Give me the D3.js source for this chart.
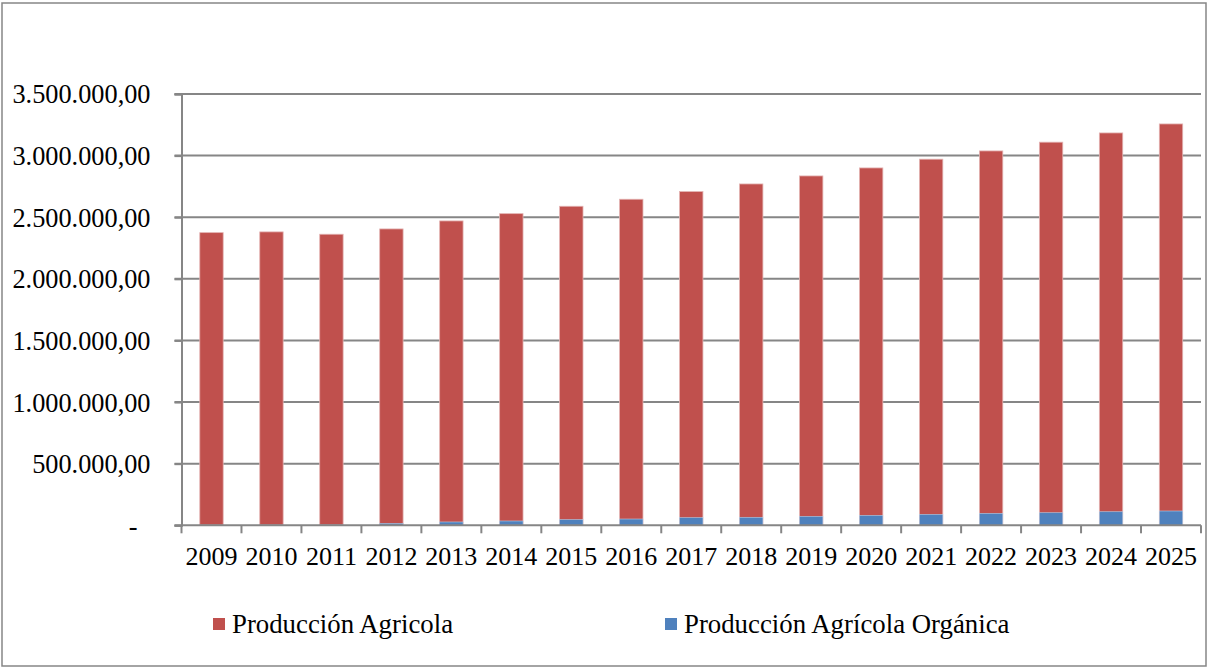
<!DOCTYPE html>
<html>
<head>
<meta charset="utf-8">
<script src="https://cdn.jsdelivr.net/npm/d3@7"></script>
<style>
  html, body { margin: 0; padding: 0; background: #fff; }
  svg { display: block; }
  text { font-family: "Liberation Serif", "Times New Roman", serif; fill: #000; }
</style>
</head>
<body>
<svg id="chart" width="1208" height="669"></svg>
<script>
const years = ["2009","2010","2011","2012","2013","2014","2015","2016","2017","2018","2019","2020","2021","2022","2023","2024","2025"];
const produccionAgricola = [2375000, 2381000, 2362000, 2405000, 2470000, 2529000, 2589000, 2646000, 2708000, 2770000, 2835000, 2900000, 2971000, 3038000, 3109000, 3184000, 3257000];
const produccionOrganica = [2000, 2500, 3000, 16000, 27000, 35000, 46000, 51000, 62000, 65000, 73000, 81000, 89000, 97000, 102000, 110000, 116000];
const yTicks = [0, 500000, 1000000, 1500000, 2000000, 2500000, 3000000, 3500000];
const seriesNames = ["Producción Agricola", "Producción Agrícola Orgánica"];
const seriesColors = ["#C0504D", "#4F81BD"];

const svg = d3.select("#chart");

// outer frame
svg.append("rect").attr("x", 2).attr("y", 3).attr("width", 1204).attr("height", 663)
  .attr("fill", "#fff").attr("stroke", "#868686").attr("stroke-width", 1.5);

const plot = { left: 181.5, right: 1201, top: 94, bottom: 525.3 };

const x = d3.scaleBand().domain(years).range([plot.left, plot.right])
  .paddingInner(0.61).paddingOuter(0.305);
const y = d3.scaleLinear().domain([0, 3500000]).range([plot.bottom, plot.top]);

const fmt = v => {
  if (v === 0) return "-";
  const s = d3.format(",.2f")(v);
  return s.replace(/,/g, "#").replace(/\./g, ",").replace(/#/g, ".");
};

// gridlines
svg.append("g").selectAll("line").data(yTicks.filter(d => d > 0)).join("line")
  .attr("x1", plot.left - 7).attr("x2", plot.right)
  .attr("y1", d => y(d)).attr("y2", d => y(d))
  .attr("stroke", "#868686").attr("stroke-width", 2);

// y axis
const yAxis = d3.axisLeft(y).tickValues(yTicks).tickSize(7).tickPadding(24).tickFormat(fmt);
const gy = svg.append("g").attr("transform", `translate(${plot.left},0)`).call(yAxis);
gy.select(".domain").attr("stroke", "#868686").attr("stroke-width", 2);
gy.selectAll(".tick line").attr("stroke", "#868686").attr("stroke-width", 2);
gy.selectAll(".tick text").attr("font-size", 26.3).attr("font-family", "Liberation Serif")
  .attr("dy", "0.34em")
  .attr("dx", d => d === 0 ? -13 : 0);

// bars: agricultural production, organic overlapped on top
svg.append("g").selectAll("rect").data(years).join("rect")
  .attr("x", d => x(d)).attr("width", x.bandwidth())
  .attr("y", (d, i) => y(produccionAgricola[i]))
  .attr("height", (d, i) => y(0) - y(produccionAgricola[i]))
  .attr("fill", seriesColors[0]).attr("stroke", "#e3b3b2").attr("stroke-width", 0.8);

svg.append("g").selectAll("rect").data(years).join("rect")
  .attr("x", d => x(d)).attr("width", x.bandwidth())
  .attr("y", (d, i) => y(produccionOrganica[i]))
  .attr("height", (d, i) => y(0) - y(produccionOrganica[i]))
  .attr("fill", seriesColors[1]).attr("stroke", "#b9cde5").attr("stroke-width", 0.6);

// x axis
const xOuter = d3.scaleLinear().domain([0, years.length]).range([plot.left, plot.right]);
const gx = svg.append("g");
gx.append("line").attr("x1", plot.left - 7).attr("x2", plot.right)
  .attr("y1", y(0)).attr("y2", y(0)).attr("stroke", "#868686").attr("stroke-width", 2);
gx.selectAll("line.tk").data(d3.range(years.length + 1)).join("line").attr("class", "tk")
  .attr("x1", d => xOuter(d)).attr("x2", d => xOuter(d))
  .attr("y1", y(0)).attr("y2", y(0) + 8)
  .attr("stroke", "#868686").attr("stroke-width", 2);
gx.selectAll("text").data(years).join("text")
  .attr("x", d => x(d) + x.bandwidth() / 2).attr("y", 565)
  .attr("text-anchor", "middle").attr("font-size", 26).text(d => d);

// legend
const legend = [
  { name: seriesNames[0], color: seriesColors[0], x: 213 },
  { name: seriesNames[1], color: seriesColors[1], x: 665 }
];
const lg = svg.append("g").selectAll("g").data(legend).join("g")
  .attr("transform", d => `translate(${d.x},0)`);
lg.append("rect").attr("x", 0).attr("y", 618).attr("width", 12).attr("height", 12)
  .attr("fill", d => d.color);
lg.append("text").attr("x", 19).attr("y", 633).attr("font-size", 26.8).text(d => d.name);
</script>
</body>
</html>
